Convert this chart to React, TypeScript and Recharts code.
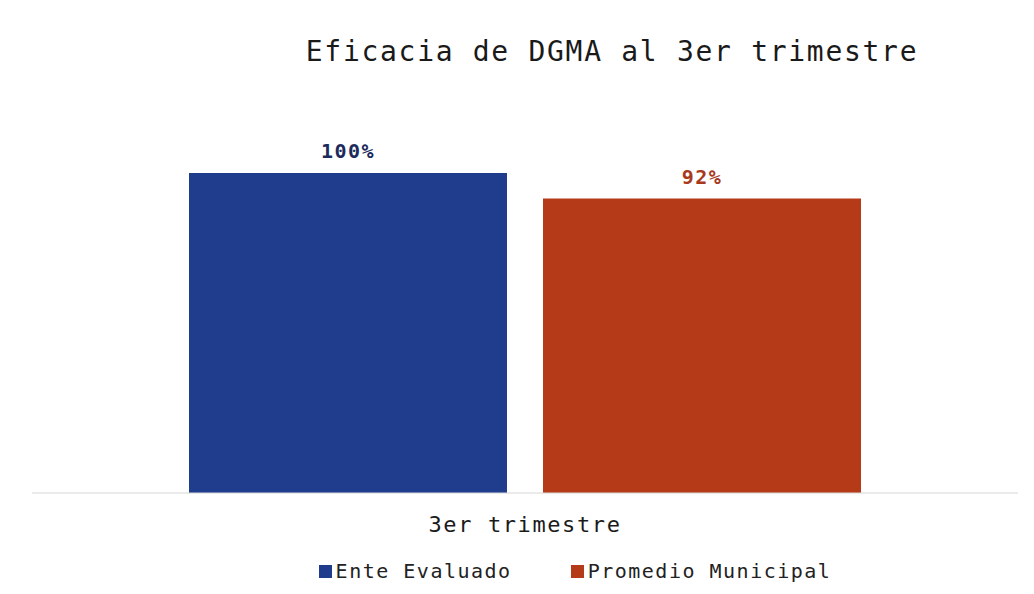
import React from 'react';
import { BarChart, Bar, XAxis, YAxis, Legend, LabelList } from 'recharts';

const categories = ['3er trimestre'];
const enteEvaluado = [100];
const promedioMunicipal = [92];
const seriesNames = ['Ente Evaluado', 'Promedio Municipal'];
const seriesColors = ['#1f3d8c', '#b53a18'];
const labelColors = ['#1c2a5c', '#a8391c'];

const MONO = '"DejaVu Sans Mono", "Liberation Mono", monospace';

const data = categories.map((c, i) => ({
  name: c,
  ente: enteEvaluado[i],
  promedio: promedioMunicipal[i],
}));

const LegendContent = () => (
  <div
    style={{
      display: 'flex',
      justifyContent: 'center',
      paddingLeft: 100,
      transform: 'translateY(6px)',
      fontFamily: MONO,
      fontSize: 20,
      letterSpacing: 1.5,
      color: '#222',
    }}
  >
    {seriesNames.map((n, i) => (
      <div key={n} style={{ display: 'flex', alignItems: 'center', marginRight: i === 0 ? 59 : 0 }}>
        <span style={{ display: 'inline-block', width: 13, height: 13, background: seriesColors[i], marginRight: 4 }} />
        <span>{n}</span>
      </div>
    ))}
  </div>
);

export default function App() {
  return (
    <div style={{ position: 'relative', width: 1018, height: 578, background: '#fff' }}>
      <div
        style={{
          position: 'absolute',
          top: 27,
          left: 0,
          width: 1018,
          paddingLeft: 190,
          boxSizing: 'border-box',
          textAlign: 'center',
          fontFamily: MONO,
          fontSize: 28,
          letterSpacing: 1.7,
          color: '#1a1a1a',
        }}
      >
        Eficacia de DGMA al 3er trimestre
      </div>
      <BarChart
        width={1018}
        height={578}
        data={data}
        margin={{ top: 165, right: 8, left: 24, bottom: 9 }}
        barCategoryGap={157}
        barGap={36}
      >
        <YAxis hide domain={[0, 100]} />
        <XAxis
          dataKey="name"
          height={60}
          tickLine={false}
          axisLine={{ stroke: '#d6d6d6' }}
          tickMargin={17}
          tick={{ fontFamily: MONO, fontSize: 22, letterSpacing: 1.6, fill: '#1a1a1a' }}
        />
        <Legend verticalAlign="bottom" content={<LegendContent />} />
        <Bar dataKey="ente" name={seriesNames[0]} fill={seriesColors[0]} isAnimationActive={false}>
          <LabelList
            dataKey="ente"
            position="top"
            offset={15}
            formatter={(v: number) => `${v}%`}
            style={{ fontFamily: MONO, fontSize: 20, fontWeight: 'bold', letterSpacing: 1.5, fill: labelColors[0] }}
          />
        </Bar>
        <Bar dataKey="promedio" name={seriesNames[1]} fill={seriesColors[1]} isAnimationActive={false}>
          <LabelList
            dataKey="promedio"
            position="top"
            offset={15}
            formatter={(v: number) => `${v}%`}
            style={{ fontFamily: MONO, fontSize: 20, fontWeight: 'bold', letterSpacing: 1.5, fill: labelColors[1] }}
          />
        </Bar>
      </BarChart>
    </div>
  );
}
